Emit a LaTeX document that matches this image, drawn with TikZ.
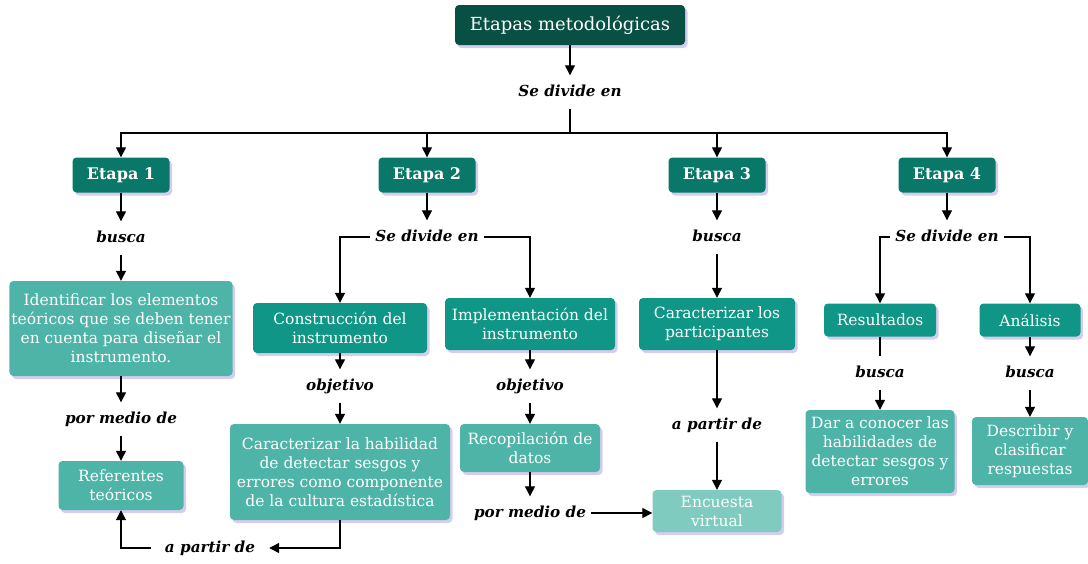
\documentclass[tikz,border=0pt]{standalone}
\usepackage{fontspec}
\setmainfont{DejaVu Serif}
\usetikzlibrary{arrows.meta,shadows}
\definecolor{cTitle}{RGB}{8,80,68}
\definecolor{cEtapa}{RGB}{10,120,104}
\definecolor{cMid}{RGB}{16,150,134}
\definecolor{cLight}{RGB}{78,180,168}
\definecolor{cPale}{RGB}{128,203,192}
\definecolor{cShadow}{RGB}{150,130,210}
\begin{document}
\begin{tikzpicture}[x=1pt,y=-1pt,
  box/.style={rounded corners=4pt, text=white, align=center, inner sep=2pt,
    font=\fontsize{15.5}{19}\selectfont,
    drop shadow={shadow xshift=2.5pt,shadow yshift=-3pt,fill=cShadow,opacity=0.4}},
  etapa/.style={box, fill=cEtapa, minimum width=97pt, minimum height=35pt,
    font=\fontsize{16}{18}\bfseries\selectfont},
  mid/.style={box, fill=cMid},
  light/.style={box, fill=cLight},
  pale/.style={box, fill=cPale},
  lab/.style={font=\fontsize{15.2}{17}\bfseries\itshape\selectfont, text height=11pt,
    text depth=3pt, inner xsep=5pt, inner ysep=9.5pt},
  arr/.style={-{Triangle[length=10pt,width=10pt]}, line width=1.3pt},
  ln/.style={line width=1.3pt},
  thk/.style={line width=2pt}]
\useasboundingbox (0,0) rectangle (1088,563);

% title
\node[box, fill=cTitle, minimum width=230pt, minimum height=40pt,
  font=\fontsize{18}{20}\selectfont] (title) at (570,25) {Etapas metodológicas};
\node[lab] (sd0) at (570,92) {Se divide en};
\coordinate (hub) at (570,133);

% etapas
\node[etapa] (e1) at (121,175) {Etapa 1};
\node[etapa] (e2) at (427,175) {Etapa 2};
\node[etapa] (e3) at (717,175) {Etapa 3};
\node[etapa] (e4) at (947,175) {Etapa 4};

% etapa 1
\node[lab] (b1) at (121,238) {busca};
\node[light, minimum width=223pt, minimum height=95pt] (id) at (121,328.5)
  {Identificar los elementos\\teóricos que se deben tener\\en cuenta para diseñar el\\instrumento.};
\node[lab] (pm1) at (121,419) {por medio de};
\node[light, minimum width=125pt, minimum height=49pt] (ref) at (121,485.5) {Referentes\\teóricos};

% etapa 2
\node[lab] (sd2) at (427,237) {Se divide en};
\node[mid, minimum width=174pt, minimum height=50pt] (con) at (340,328) {Construcción del\\instrumento};
\node[mid, minimum width=170pt, minimum height=52pt] (imp) at (530,324) {Implementación del\\instrumento};
\node[lab] (ob1) at (340,386) {objetivo};
\node[lab] (ob2) at (530,386) {objetivo};
\node[light, minimum width=220pt, minimum height=96pt] (car) at (340,472)
  {Caracterizar la habilidad\\de detectar sesgos y\\errores como componente\\de la cultura estadística};
\node[light, minimum width=140pt, minimum height=48pt] (rec) at (530,448) {Recopilación de\\datos};
\node[lab] (pm2) at (530,513) {por medio de};
\node[lab, inner xsep=14pt] (ap1) at (210,548) {a partir de};

% etapa 3
\node[lab] (b3) at (717,237) {busca};
\node[mid, minimum width=156pt, minimum height=52pt] (par) at (717,324) {Caracterizar los\\participantes};
\node[lab] (ap3) at (717,425) {a partir de};
\node[pale, minimum width=129pt, minimum height=42pt] (enc) at (717,511) {Encuesta\\virtual};

% etapa 4
\node[lab] (sd4) at (947,237) {Se divide en};
\node[mid, minimum width=112pt, minimum height=33pt] (res) at (880,320) {Resultados};
\node[mid, minimum width=101pt, minimum height=33pt] (ana) at (1030,320) {Análisis};
\node[lab] (b4a) at (880,373) {busca};
\node[lab] (b4b) at (1030,373) {busca};
\node[light, minimum width=149pt, minimum height=83pt] (dar) at (880,451.5)
  {Dar a conocer las\\habilidades de\\detectar sesgos y\\errores};
\node[light, minimum width=116pt, minimum height=68pt] (des) at (1030,451)
  {Describir y\\clasificar\\respuestas};

% connectors
\draw[arr] (title) -- (sd0);
\draw[thk] (sd0) -- (hub);
\draw[arr] (hub) -| (e1);
\draw[arr] (hub) -| (e2);
\draw[arr] (hub) -| (e3);
\draw[arr] (hub) -| (e4);

\draw[arr] (e1) -- (b1);
\draw[arr] (b1) -- (id);
\draw[arr] (id) -- (pm1);
\draw[arr] (pm1) -- (ref);

\draw[arr] (e2) -- (sd2);
\draw[arr] (sd2.west) -| (con.north);
\draw[arr] (sd2.east) -| (imp.north);
\draw[arr] (con) -- (ob1);
\draw[arr] (ob1) -- (car);
\draw[arr] (car.south) |- (ap1.east);
\draw[arr] (ap1.west) -| (ref.south);
\draw[arr] (imp) -- (ob2);
\draw[arr] (ob2) -- (rec);
\draw[arr] (rec) -- (pm2);
\draw[arr] (pm2.east) -- (pm2.east -| enc.west);

\draw[arr] (e3) -- (b3);
\draw[arr] (b3) -- (par);
\draw[arr] (par) -- (ap3);
\draw[arr] (ap3) -- (enc);

\draw[arr] (e4) -- (sd4);
\draw[arr] (sd4.west) -| (res.north);
\draw[arr] (sd4.east) -| (ana.north);
\draw[ln] (res) -- (b4a);
\draw[arr] (b4a) -- (dar);
\draw[arr] (ana) -- (b4b);
\draw[arr] (b4b) -- (des);
\end{tikzpicture}
\end{document}
